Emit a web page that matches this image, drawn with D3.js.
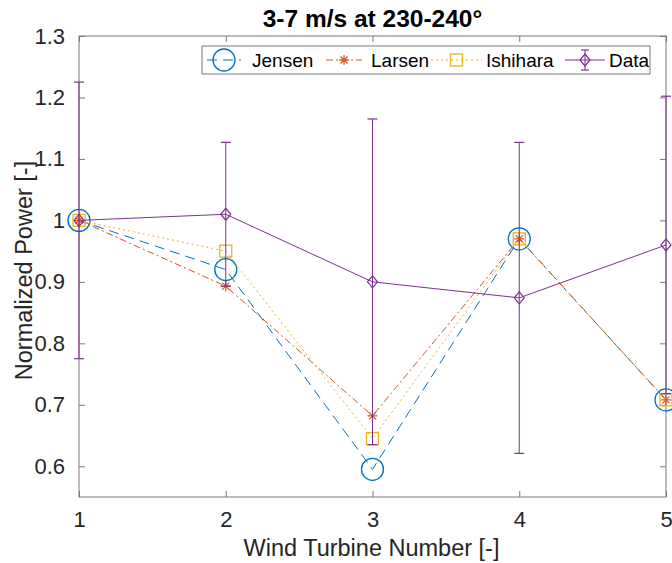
<!DOCTYPE html>
<html>
<head>
<meta charset="utf-8">
<script src="https://cdn.jsdelivr.net/npm/d3@7/dist/d3.min.js"></script>
<style>
  html, body { margin: 0; padding: 0; background: #fff; }
  svg { display: block; font-family: "Liberation Sans", Arial, Helvetica, sans-serif; }
</style>
</head>
<body>
<svg id="chart" width="672" height="563"></svg>
<script>
// Turbine positions and tick labels
const turbines = [1, 2, 3, 4, 5];
const yTicks = [0.6, 0.7, 0.8, 0.9, 1.0, 1.1, 1.2, 1.3];
const yTickLabels = ["0.6", "0.7", "0.8", "0.9", "1", "1.1", "1.2", "1.3"];

// Normalized power per wake model
const jensen   = [1.0, 0.920, 0.595, 0.970, 0.708];
const larsen   = [1.0, 0.893, 0.682, 0.970, 0.708];
const ishihara = [1.0, 0.950, 0.645, 0.970, 0.708];

// Measured data: mean and error bar half-width
const dataMean = [1.0, 1.010, 0.900, 0.874, 0.960];
const dataErr  = [0.225, 0.117, 0.265, 0.253, 0.242];

const titleText = "3-7 m/s at 230-240°";
const xLabel = "Wind Turbine Number [-]";
const yLabel = "Normalized Power [-]";

const colors = { jensen: "#0072BD", larsen: "#D95319", ishihara: "#EDB120", data: "#7E2F8E" };

const svg = d3.select("#chart");
const m = { left: 79, right: 666, top: 36, bottom: 497 };

const x = d3.scaleLinear().domain([1, 5]).range([m.left, m.right]);
const y = d3.scaleLinear().domain([0.55, 1.3]).range([m.bottom, m.top]);

const axisColor = "#262626";
const tickLen = 6;

// Axes box with inward ticks on all four sides
const gAxes = svg.append("g");
gAxes.append("rect")
  .attr("x", m.left).attr("y", m.top)
  .attr("width", m.right - m.left).attr("height", m.bottom - m.top)
  .attr("fill", "none").attr("stroke", "#7a7a7a").attr("stroke-width", 1);

const xAxisB = d3.axisBottom(x).tickValues(turbines).tickSize(-tickLen).tickFormat(d3.format("d")).tickPadding(14);
const xAxisT = d3.axisTop(x).tickValues(turbines).tickSize(-tickLen).tickFormat("");
const yAxisL = d3.axisLeft(y).tickValues(yTicks).tickSize(-tickLen)
  .tickFormat((d, i) => yTickLabels[i]).tickPadding(14);
const yAxisR = d3.axisRight(y).tickValues(yTicks).tickSize(-tickLen).tickFormat("");

function styleAxis(g) {
  g.select(".domain").remove();
  g.selectAll(".tick line").attr("stroke", "#7a7a7a");
  g.selectAll(".tick text").attr("fill", axisColor).style("font-size", "22px");
}
gAxes.append("g").attr("transform", `translate(0,${m.bottom})`).call(xAxisB).call(styleAxis);
gAxes.append("g").attr("transform", `translate(0,${m.top})`).call(xAxisT).call(styleAxis);
gAxes.append("g").attr("transform", `translate(${m.left},0)`).call(yAxisL).call(styleAxis);
gAxes.append("g").attr("transform", `translate(${m.right},0)`).call(yAxisR).call(styleAxis);

// Title and axis labels
svg.append("text").attr("x", (m.left + m.right) / 2).attr("y", 27)
  .attr("text-anchor", "middle").attr("fill", "#000")
  .style("font-size", "24.5px").style("font-weight", "bold").text(titleText);
svg.append("text").attr("x", (m.left + m.right) / 2 - 1).attr("y", 556)
  .attr("text-anchor", "middle").attr("fill", axisColor)
  .style("font-size", "23.5px").text(xLabel);
svg.append("text")
  .attr("transform", `translate(32,${(m.top + m.bottom) / 2 + 4}) rotate(-90)`)
  .attr("text-anchor", "middle").attr("fill", axisColor)
  .style("font-size", "23.5px").text(yLabel);

const line = d3.line().x((d, i) => x(turbines[i])).y(d => y(d));
const plot = svg.append("g");

// Marker shapes
function circleMarker(g, cx, cy, c) {
  g.append("circle").attr("cx", cx).attr("cy", cy).attr("r", 11)
    .attr("fill", "none").attr("stroke", c).attr("stroke-width", 1.3);
}
function starMarker(g, cx, cy, c) {
  const r = 5;
  const p = [[-r, 0, r, 0], [0, -r, 0, r], [-r * 0.7, -r * 0.7, r * 0.7, r * 0.7], [-r * 0.7, r * 0.7, r * 0.7, -r * 0.7]];
  p.forEach(s => g.append("line")
    .attr("x1", cx + s[0]).attr("y1", cy + s[1]).attr("x2", cx + s[2]).attr("y2", cy + s[3])
    .attr("stroke", c).attr("stroke-width", 1.2));
}
function squareMarker(g, cx, cy, c) {
  g.append("rect").attr("x", cx - 6).attr("y", cy - 6).attr("width", 12).attr("height", 12)
    .attr("fill", "none").attr("stroke", c).attr("stroke-width", 1.3);
}
function diamondMarker(g, cx, cy, c) {
  g.append("path").attr("d", `M${cx},${cy - 6}L${cx + 5},${cy}L${cx},${cy + 6}L${cx - 5},${cy}Z`)
    .attr("fill", "none").attr("stroke", c).attr("stroke-width", 1.2);
}

function series(vals, c, dash, marker) {
  const g = plot.append("g");
  g.append("path").datum(vals).attr("d", line).attr("fill", "none")
    .attr("stroke", c).attr("stroke-width", 1).attr("stroke-dasharray", dash);
  vals.forEach((v, i) => marker(g, x(turbines[i]), y(v), c));
}

series(jensen, colors.jensen, "10,6", circleMarker);
series(larsen, colors.larsen, "7,3,2,3", starMarker);
series(ishihara, colors.ishihara, "2,3", squareMarker);

// Measured data with error bars
const gData = plot.append("g");
gData.append("path").datum(dataMean).attr("d", line).attr("fill", "none")
  .attr("stroke", colors.data).attr("stroke-width", 1);
dataMean.forEach((v, i) => {
  const cx = x(turbines[i]);
  const lo = y(v - dataErr[i]), hi = y(v + dataErr[i]);
  gData.append("line").attr("x1", cx).attr("x2", cx).attr("y1", lo).attr("y2", hi)
    .attr("stroke", colors.data).attr("stroke-width", 1);
  [lo, hi].forEach(yy => gData.append("line")
    .attr("x1", cx - 5).attr("x2", cx + 5).attr("y1", yy).attr("y2", yy)
    .attr("stroke", colors.data).attr("stroke-width", 1.2));
  diamondMarker(gData, cx, y(v), colors.data);
});

// Legend
const lg = svg.append("g");
lg.append("rect").attr("x", 202).attr("y", 46).attr("width", 448).attr("height", 28)
  .attr("fill", "#fff").attr("stroke", "#7a7a7a").attr("stroke-width", 1);
const ly = 60;
const entries = [
  { name: "Jensen", c: colors.jensen, dash: "10,6", x0: 207, x1: 241, tx: 252, mk: circleMarker },
  { name: "Larsen", c: colors.larsen, dash: "7,3,2,3", x0: 326, x1: 362, tx: 371, mk: starMarker },
  { name: "Ishihara", c: colors.ishihara, dash: "2,3", x0: 431, x1: 482, tx: 486, mk: squareMarker },
  { name: "Data", c: colors.data, dash: null, x0: 565, x1: 605, tx: 609, mk: diamondMarker }
];
entries.forEach(e => {
  lg.append("line").attr("x1", e.x0).attr("x2", e.x1).attr("y1", ly).attr("y2", ly)
    .attr("stroke", e.c).attr("stroke-width", 1).attr("stroke-dasharray", e.dash);
  const cx = (e.x0 + e.x1) / 2;
  if (e.name === "Data") {
    lg.append("line").attr("x1", cx).attr("x2", cx).attr("y1", ly - 10).attr("y2", ly + 10)
      .attr("stroke", e.c).attr("stroke-width", 1);
    [ly - 10, ly + 10].forEach(yy => lg.append("line").attr("x1", cx - 4).attr("x2", cx + 4)
      .attr("y1", yy).attr("y2", yy).attr("stroke", e.c).attr("stroke-width", 1.2));
  }
  e.mk(lg, cx, ly, e.c);
  lg.append("text").attr("x", e.tx).attr("y", ly + 7).attr("fill", "#000")
    .style("font-size", "19px").text(e.name);
});
</script>
</body>
</html>
